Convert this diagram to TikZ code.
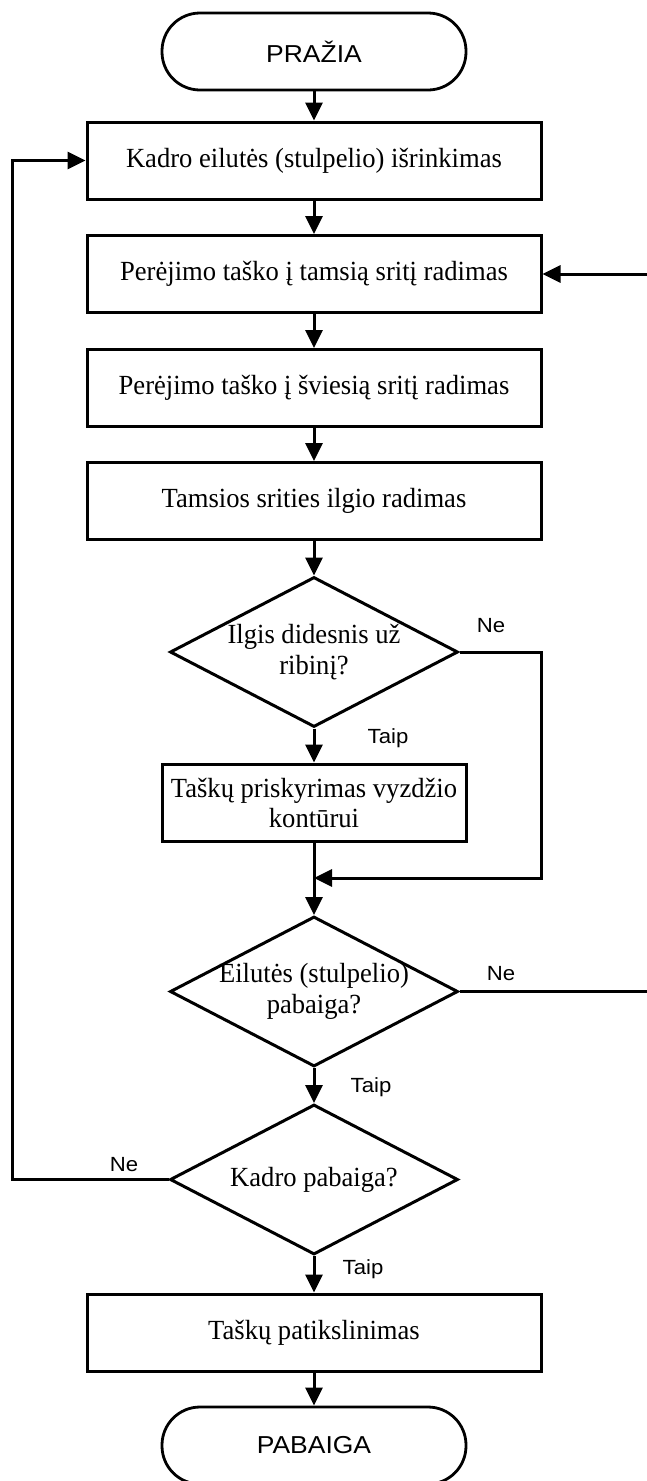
\documentclass[tikz,border=0pt]{standalone}
\usepackage{fontspec}
\setmainfont{Liberation Serif}[FakeStretch=0.96]
\newfontfamily\labelfont{Liberation Sans}[FakeStretch=1.08]
\usetikzlibrary{shapes.geometric,arrows.meta}
\begin{document}
\begin{tikzpicture}[x=1pt,y=-1pt,
  line width=3pt,
  flow/.style={-{Triangle[length=18pt,width=17pt]}, line width=3pt},
  proc/.style={draw, rectangle, minimum width=454pt, minimum height=77pt,
    inner sep=0pt, align=center, font=\fontsize{27.7}{30}\selectfont},
  proctwo/.style={proc, minimum width=304pt},
  term/.style={draw, rectangle, rounded corners=38pt, minimum width=304pt,
    minimum height=77pt, line width=2.8pt, font=\labelfont\fontsize{24.5}{30}\selectfont},
  dec/.style={draw, diamond, minimum width=288pt, minimum height=150pt, inner sep=0pt},
  dectext/.style={align=center, inner sep=0pt, font=\fontsize{27.7}{31}\selectfont},
  ans/.style={inner sep=0pt, font=\labelfont\fontsize{20.5}{24}\selectfont}
]
\clip (0,0) rectangle (647,1481);

% terminals, steps and decisions
\node[term] (start) at (314,51.5) {PRAŽIA};
\node[proc] (b1) at (314,160.5) {Kadro eilutės (stulpelio) išrinkimas};
\node[proc] (b2) at (314,274) {Perėjimo taško į tamsią sritį radimas};
\node[proc] (b3) at (314,388) {Perėjimo taško į šviesią sritį radimas};
\node[proc] (b4) at (314,501) {Tamsios srities ilgio radimas};
\node[dec] (d1) at (314,652) {};
\node[dectext] (d1t) at (d1) {Ilgis didesnis už\\ribinį?};
\node[proctwo] (b5) at (314,802.5) {Taškų priskyrimas vyzdžio\\kontūrui};
\coordinate (mg) at (314,878);
\node[dec] (d2) at (314,991.5) {};
\node[dectext] (d2t) at (d2) {Eilutės (stulpelio)\\pabaiga?};
\node[dec] (d3) at (314,1179.5) {};
\node[dectext] (d3t) at (d3) {Kadro pabaiga?};
\node[proc] (b6) at (314,1332.5) {Taškų patikslinimas};
\node[term] (end) at (314,1445.5) {PABAIGA};

% main flow
\draw[flow] (start) -- (b1);
\draw[flow] (b1) -- (b2);
\draw[flow] (b2) -- (b3);
\draw[flow] (b3) -- (b4);
\draw[flow] (b4) -- (d1);
\draw[flow] (d1) -- (b5);
\draw[flow] (b5) -- (d2);
\draw[flow] (d2) -- (d3);
\draw[flow] (d3) -- (b6);
\draw[flow] (b6) -- (end);

% side branches
\draw[flow] (d1.east) -- ++(82,0) |- (mg);
\coordinate (rr) at (665,991.5);
\draw[flow] (d2.east) -- (rr) |- (b2.east);
\coordinate (ll) at (12,1179.5);
\draw[flow] (d3.west) -- (ll) |- (b1.west);

% branch labels
\node[ans] (n1) at (491,626) {Ne};
\node[ans] (t1) at (388,738) {Taip};
\node[ans] (n2) at (501,974) {Ne};
\node[ans] (t2) at (371,1087) {Taip};
\node[ans] (n3) at (124,1165) {Ne};
\node[ans] (t3) at (363,1269) {Taip};
\end{tikzpicture}
\end{document}
